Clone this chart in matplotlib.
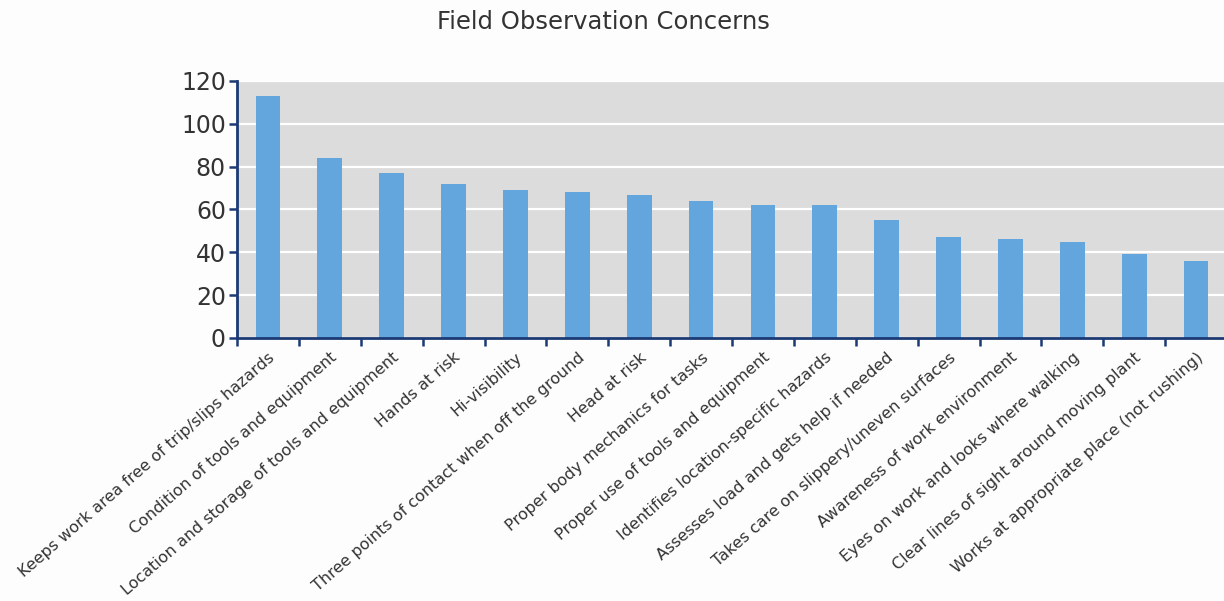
import matplotlib
matplotlib.use("Agg")
import matplotlib.pyplot as plt
import numpy as np

categories = [
    "Keeps work area free of trip/slips hazards",
    "Condition of tools and equipment",
    "Location and storage of tools and equipment",
    "Hands at risk",
    "Hi-visibility",
    "Three points of contact when off the ground",
    "Head at risk",
    "Proper body mechanics for tasks",
    "Proper use of tools and equipment",
    "Identifies location-specific hazards",
    "Assesses load and gets help if needed",
    "Takes care on slippery/uneven surfaces",
    "Awareness of work environment",
    "Eyes on work and looks where walking",
    "Clear lines of sight around moving plant",
    "Works at appropriate place (not rushing)",
]
values = [113, 84, 77, 72, 69, 68, 67, 64, 62, 62, 55, 47, 46, 45, 39, 36]
yticks = [0, 20, 40, 60, 80, 100, 120]

plt.rcParams['font.family'] = ['DejaVu Sans']

fig = plt.figure(figsize=(12.24, 6.01), dpi=100)
fig.patch.set_facecolor("#fdfdfd")
ax = fig.add_axes([237/1224, 1-338/601, 990/1224, 257/601])
ax.set_facecolor("#dcdcdc")

x = np.arange(len(categories))
ax.bar(x, values, width=0.40, color="#63a6de", zorder=3)

ax.set_xlim(-0.5, len(categories) - 0.5)
ax.set_ylim(0, 120)
ax.set_yticks(yticks)
ax.set_yticklabels([str(v) for v in yticks], fontsize=17, color="#333333")
ax.yaxis.grid(True, color="white", linewidth=1.6, zorder=1)
ax.set_axisbelow(True)

navy = "#1c3a74"
for s in ["top", "right"]:
    ax.spines[s].set_visible(False)
for s in ["left", "bottom"]:
    ax.spines[s].set_color(navy)
    ax.spines[s].set_linewidth(2.0)
    ax.spines[s].set_zorder(4)

ax.tick_params(axis="y", direction="out", length=6, width=1.8, color=navy, pad=2)
ax.set_xticks(x)
ax.set_xticklabels(categories, rotation=41, ha="right", va="top",
                   rotation_mode="anchor", fontsize=11.5, color="#333333")
ax.tick_params(axis="x", which="major", length=0, pad=8.5)
ax.set_xticks(np.arange(-0.5, len(categories), 1.0), minor=True)
ax.tick_params(axis="x", which="minor", direction="out", length=6, width=1.8, color=navy)

fig.text(603/1224, 1-22/601, "Field Observation Concerns", ha="center", va="center",
         fontsize=17.5, color="#333333")

fig.savefig("out.png", dpi=100, facecolor=fig.get_facecolor())
